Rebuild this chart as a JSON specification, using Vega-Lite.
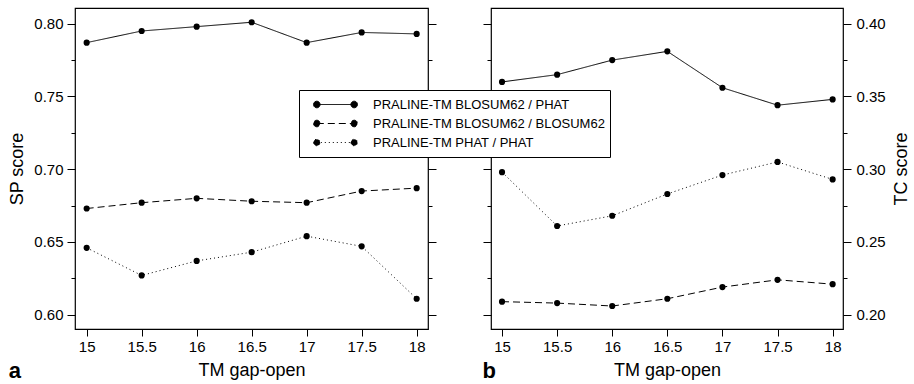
{
  "$schema": "https://vega.github.io/schema/vega-lite/v6.json",
  "padding": {"left": 8, "top": 7, "right": 0, "bottom": 0},
  "background": "white",
  "spacing": 43,
  "config": {
    "font": "Liberation Sans",
    "view": {"stroke": "black", "strokeWidth": 1.2},
    "axis": {"domain": false, "grid": false, "tickColor": "black", "tickWidth": 1, "labelColor": "black", "titleColor": "black", "labelFont": "Liberation Sans", "titleFont": "Liberation Sans", "labelFontSize": 15, "titleFontSize": 18, "titleFontWeight": "normal"}
  },
  "data": {"values": [
    {"p":"a","x":15,"m":"PRALINE-TM BLOSUM62 / PHAT","v":0.787},
    {"p":"a","x":15.5,"m":"PRALINE-TM BLOSUM62 / PHAT","v":0.795},
    {"p":"a","x":16,"m":"PRALINE-TM BLOSUM62 / PHAT","v":0.798},
    {"p":"a","x":16.5,"m":"PRALINE-TM BLOSUM62 / PHAT","v":0.801},
    {"p":"a","x":17,"m":"PRALINE-TM BLOSUM62 / PHAT","v":0.787},
    {"p":"a","x":17.5,"m":"PRALINE-TM BLOSUM62 / PHAT","v":0.794},
    {"p":"a","x":18,"m":"PRALINE-TM BLOSUM62 / PHAT","v":0.793},
    {"p":"a","x":15,"m":"PRALINE-TM BLOSUM62 / BLOSUM62","v":0.673},
    {"p":"a","x":15.5,"m":"PRALINE-TM BLOSUM62 / BLOSUM62","v":0.677},
    {"p":"a","x":16,"m":"PRALINE-TM BLOSUM62 / BLOSUM62","v":0.680},
    {"p":"a","x":16.5,"m":"PRALINE-TM BLOSUM62 / BLOSUM62","v":0.678},
    {"p":"a","x":17,"m":"PRALINE-TM BLOSUM62 / BLOSUM62","v":0.677},
    {"p":"a","x":17.5,"m":"PRALINE-TM BLOSUM62 / BLOSUM62","v":0.685},
    {"p":"a","x":18,"m":"PRALINE-TM BLOSUM62 / BLOSUM62","v":0.687},
    {"p":"a","x":15,"m":"PRALINE-TM PHAT / PHAT","v":0.646},
    {"p":"a","x":15.5,"m":"PRALINE-TM PHAT / PHAT","v":0.627},
    {"p":"a","x":16,"m":"PRALINE-TM PHAT / PHAT","v":0.637},
    {"p":"a","x":16.5,"m":"PRALINE-TM PHAT / PHAT","v":0.643},
    {"p":"a","x":17,"m":"PRALINE-TM PHAT / PHAT","v":0.654},
    {"p":"a","x":17.5,"m":"PRALINE-TM PHAT / PHAT","v":0.647},
    {"p":"a","x":18,"m":"PRALINE-TM PHAT / PHAT","v":0.611},
    {"p":"b","x":15,"m":"PRALINE-TM BLOSUM62 / PHAT","v":0.360},
    {"p":"b","x":15.5,"m":"PRALINE-TM BLOSUM62 / PHAT","v":0.365},
    {"p":"b","x":16,"m":"PRALINE-TM BLOSUM62 / PHAT","v":0.375},
    {"p":"b","x":16.5,"m":"PRALINE-TM BLOSUM62 / PHAT","v":0.381},
    {"p":"b","x":17,"m":"PRALINE-TM BLOSUM62 / PHAT","v":0.356},
    {"p":"b","x":17.5,"m":"PRALINE-TM BLOSUM62 / PHAT","v":0.344},
    {"p":"b","x":18,"m":"PRALINE-TM BLOSUM62 / PHAT","v":0.348},
    {"p":"b","x":15,"m":"PRALINE-TM BLOSUM62 / BLOSUM62","v":0.209},
    {"p":"b","x":15.5,"m":"PRALINE-TM BLOSUM62 / BLOSUM62","v":0.208},
    {"p":"b","x":16,"m":"PRALINE-TM BLOSUM62 / BLOSUM62","v":0.206},
    {"p":"b","x":16.5,"m":"PRALINE-TM BLOSUM62 / BLOSUM62","v":0.211},
    {"p":"b","x":17,"m":"PRALINE-TM BLOSUM62 / BLOSUM62","v":0.219},
    {"p":"b","x":17.5,"m":"PRALINE-TM BLOSUM62 / BLOSUM62","v":0.224},
    {"p":"b","x":18,"m":"PRALINE-TM BLOSUM62 / BLOSUM62","v":0.221},
    {"p":"b","x":15,"m":"PRALINE-TM PHAT / PHAT","v":0.298},
    {"p":"b","x":15.5,"m":"PRALINE-TM PHAT / PHAT","v":0.261},
    {"p":"b","x":16,"m":"PRALINE-TM PHAT / PHAT","v":0.268},
    {"p":"b","x":16.5,"m":"PRALINE-TM PHAT / PHAT","v":0.283},
    {"p":"b","x":17,"m":"PRALINE-TM PHAT / PHAT","v":0.296},
    {"p":"b","x":17.5,"m":"PRALINE-TM PHAT / PHAT","v":0.305},
    {"p":"b","x":18,"m":"PRALINE-TM PHAT / PHAT","v":0.293}
  ]},
  "hconcat": [
    {
      "width": 353, "height": 321,
      "title": {"text": "a", "orient": "bottom", "anchor": "start", "frame": "bounds", "fontSize": 22, "fontWeight": "bold", "font": "Liberation Sans", "color": "black", "baseline": "alphabetic", "offset": -1},
      "transform": [{"filter": "datum.p === 'a'"}],
      "encoding": {
        "x": {"field": "x", "type": "quantitative", "scale": {"domain": [14.894, 18.103], "nice": false, "zero": false},
              "axis": {"values": [15, 15.5, 16, 16.5, 17, 17.5, 18], "format": "~g", "tickSize": 7, "labelPadding": 3, "title": "TM gap-open", "titlePadding": 7, "labelFlush": false}}
      },
      "layer": [
        {
          "mark": {"type": "line", "color": "black", "strokeWidth": 1},
          "encoding": {
            "y": {"field": "v", "type": "quantitative", "scale": {"domain": [0.5902, 0.8108], "nice": false, "zero": false},
                  "axis": {"orient": "left", "title": "SP score", "titlePadding": 7, "labelPadding": 4,
                           "values": [0.6, 0.625, 0.65, 0.675, 0.7, 0.725, 0.75, 0.775, 0.8],
                           "labelExpr": "abs(datum.value*20 - round(datum.value*20)) < 0.001 ? format(datum.value, '.2f') : ''",
                           "tickSize": {"condition": {"test": "abs(datum.value*20 - round(datum.value*20)) < 0.001", "value": 8}, "value": 4}}},
            "strokeDash": {"field": "m", "type": "nominal",
              "scale": {"domain": ["PRALINE-TM BLOSUM62 / PHAT", "PRALINE-TM BLOSUM62 / BLOSUM62", "PRALINE-TM PHAT / PHAT"], "range": [[1, 0], [7, 4], [1, 3]]},
              "legend": {"title": null, "orient": "none", "legendX": 224, "legendY": 82, "padding": 5,
                "symbolType": "M-1,0A0.15,0.15,0,1,0,-0.7,0A0.15,0.15,0,1,0,-1,0Z M-0.85,0L0.85,0 M0.7,0A0.15,0.15,0,1,0,1,0A0.15,0.15,0,1,0,0.7,0Z",
                "symbolSize": 1936, "symbolOffset": 9, "labelOffset": 15, "clipHeight": 19, "rowPadding": 0, "labelLimit": 400,
                "labelFontSize": 13, "labelFont": "Liberation Sans", "labelColor": "black",
                "strokeColor": "black", "fillColor": "white",
                "symbolStrokeColor": "black", "symbolFillColor": "black", "symbolStrokeWidth": 1,
                "encode": {"symbols": {"update": {"fill": {"value": "black"}, "stroke": {"value": "black"}, "strokeWidth": {"value": 1}, "opacity": {"value": 1}}}}}}
          }
        },
        {
          "mark": {"type": "point", "filled": true, "color": "black", "size": 38, "opacity": 1},
          "encoding": {
            "y": {"field": "v", "type": "quantitative",
                  "axis": {"orient": "right", "title": null, "labels": false,
                           "values": [0.6, 0.625, 0.65, 0.675, 0.7, 0.725, 0.75, 0.775, 0.8],
                           "tickSize": {"condition": {"test": "abs(datum.value*20 - round(datum.value*20)) < 0.001", "value": 8}, "value": 4}}}
          }
        }
      ],
      "resolve": {"axis": {"y": "independent"}}
    },
    {
      "width": 352, "height": 321,
      "title": {"text": "b", "orient": "bottom", "anchor": "start", "frame": "bounds", "fontSize": 22, "fontWeight": "bold", "font": "Liberation Sans", "color": "black", "baseline": "alphabetic", "offset": -1},
      "transform": [{"filter": "datum.p === 'b'"}],
      "encoding": {
        "x": {"field": "x", "type": "quantitative", "scale": {"domain": [14.9, 18.094], "nice": false, "zero": false},
              "axis": {"values": [15, 15.5, 16, 16.5, 17, 17.5, 18], "format": "~g", "tickSize": 7, "labelPadding": 3, "title": "TM gap-open", "titlePadding": 7, "labelFlush": false}}
      },
      "layer": [
        {
          "mark": {"type": "line", "color": "black", "strokeWidth": 1},
          "encoding": {
            "y": {"field": "v", "type": "quantitative", "scale": {"domain": [0.1902, 0.4108], "nice": false, "zero": false},
                  "axis": {"orient": "left", "title": null, "labels": false,
                           "values": [0.2, 0.225, 0.25, 0.275, 0.3, 0.325, 0.35, 0.375, 0.4],
                           "tickSize": {"condition": {"test": "abs(datum.value*20 - round(datum.value*20)) < 0.001", "value": 8}, "value": 4}}},
            "strokeDash": {"field": "m", "type": "nominal",
              "scale": {"domain": ["PRALINE-TM BLOSUM62 / PHAT", "PRALINE-TM BLOSUM62 / BLOSUM62", "PRALINE-TM PHAT / PHAT"], "range": [[1, 0], [7, 4], [1, 3]]},
              "legend": {"title": null, "orient": "none", "legendX": 224, "legendY": 82, "padding": 5,
                "symbolType": "M-1,0A0.15,0.15,0,1,0,-0.7,0A0.15,0.15,0,1,0,-1,0Z M-0.85,0L0.85,0 M0.7,0A0.15,0.15,0,1,0,1,0A0.15,0.15,0,1,0,0.7,0Z",
                "symbolSize": 1936, "symbolOffset": 9, "labelOffset": 15, "clipHeight": 19, "rowPadding": 0, "labelLimit": 400,
                "labelFontSize": 13, "labelFont": "Liberation Sans", "labelColor": "black",
                "strokeColor": "black", "fillColor": "white",
                "symbolStrokeColor": "black", "symbolFillColor": "black", "symbolStrokeWidth": 1,
                "encode": {"symbols": {"update": {"fill": {"value": "black"}, "stroke": {"value": "black"}, "strokeWidth": {"value": 1}, "opacity": {"value": 1}}}}}}
          }
        },
        {
          "mark": {"type": "point", "filled": true, "color": "black", "size": 38, "opacity": 1},
          "encoding": {
            "y": {"field": "v", "type": "quantitative",
                  "axis": {"orient": "right", "title": "TC score", "titleAngle": 270, "titleBaseline": "top", "titlePadding": 7, "labelPadding": 5,
                           "values": [0.2, 0.225, 0.25, 0.275, 0.3, 0.325, 0.35, 0.375, 0.4],
                           "labelExpr": "abs(datum.value*20 - round(datum.value*20)) < 0.001 ? format(datum.value, '.2f') : ''",
                           "tickSize": {"condition": {"test": "abs(datum.value*20 - round(datum.value*20)) < 0.001", "value": 8}, "value": 4}}}
          }
        }
      ],
      "resolve": {"axis": {"y": "independent"}}
    }
  ]
}
